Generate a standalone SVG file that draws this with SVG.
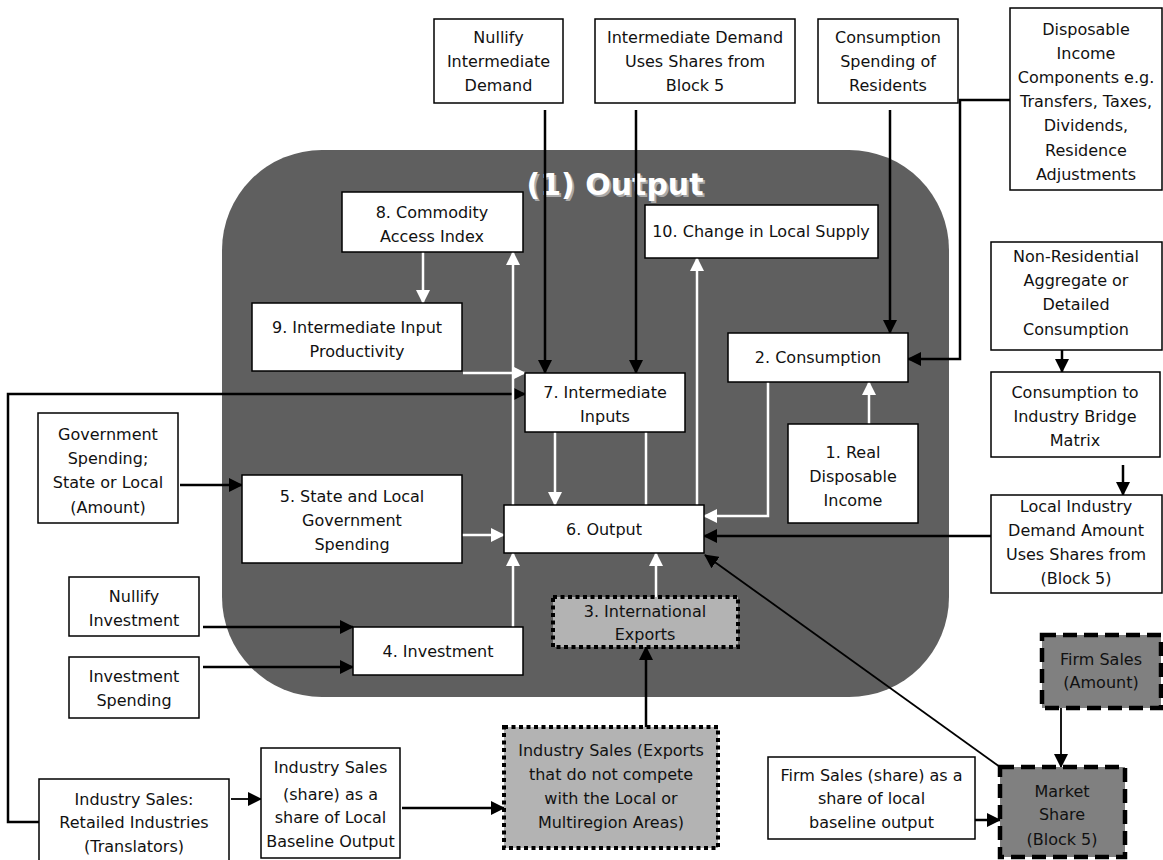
<svg xmlns="http://www.w3.org/2000/svg" width="1163" height="860" viewBox="0 0 1163 860">
<defs>
<marker id="ab" markerUnits="userSpaceOnUse" markerWidth="14" markerHeight="14" viewBox="0 0 14 14" refX="13" refY="7" orient="auto"><path d="M0,0 L14,7 L0,14 z" fill="#000"/></marker>
<marker id="aw" markerUnits="userSpaceOnUse" markerWidth="14" markerHeight="14" viewBox="0 0 14 14" refX="13" refY="7" orient="auto"><path d="M0,0 L14,7 L0,14 z" fill="#fff"/></marker>
<style>
.n rect{fill:#fff;stroke:#000;stroke-width:1.5}
.n text,.t{font-family:"DejaVu Sans",sans-serif;font-size:16px;fill:#111;text-anchor:middle}
.dot rect{fill:#b3b3b3;stroke:#000;stroke-width:4;stroke-dasharray:4 3.5}
.dash rect{fill:#808080;stroke:#000;stroke-width:4.5;stroke-dasharray:14 7}
.bk{fill:none;stroke:#000;stroke-width:2.5;marker-end:url(#ab)}
.bt{fill:none;stroke:#000;stroke-width:1.8;marker-end:url(#ab)}
.wh{fill:none;stroke:#fff;stroke-width:2.5;marker-end:url(#aw)}
.wl{fill:none;stroke:#fff;stroke-width:2.5}
</style>
</defs>
<rect width="1163" height="860" fill="#fff"/>
<rect id="block" x="222" y="150" width="727" height="547" rx="100" ry="100" fill="#5f5f5f"/>
<text x="617" y="197" font-family="DejaVu Sans,sans-serif" font-weight="bold" font-size="30" fill="#aaa" text-anchor="middle">(1) Output</text>
<text x="615" y="195" font-family="DejaVu Sans,sans-serif" font-weight="bold" font-size="30" fill="#fff" text-anchor="middle">(1) Output</text>

<g id="connectors">
<path class="bk" d="M545,110 V373"/>
<path class="bk" d="M636,110 V373"/>
<path class="bk" d="M890,110 V333"/>
<path class="bk" d="M1010,100 H960 V359 H908"/>
<path class="bk" d="M180,485 H242"/>
<path class="bk" d="M203,627 H353"/>
<path class="bk" d="M203,667 H353"/>
<path class="bk" d="M39,822 H8 V394 H525"/>
<path class="bt" d="M231,799 H261"/>
<path class="bk" d="M402,808 H504"/>
<path class="bk" d="M646,727 V647"/>
<path class="bk" d="M1062,350 V372"/>
<path class="bk" d="M1123,465 V495"/>
<path class="bk" d="M991,536 H704"/>
<path class="bt" d="M1061,708 V767"/>
<path class="bk" d="M975,820 H1000"/>
<path class="bt" d="M1000,767 L705,555"/>
<path class="wh" d="M513,505 V252"/>
<path class="wh" d="M697,505 V258"/>
<path class="wh" d="M423,252 V303"/>
<path class="wh" d="M463,373 H525"/>
<path class="wh" d="M555,432 V505"/>
<path class="wl" d="M646,432 V505"/>
<path class="wh" d="M768,382 V516 H704"/>
<path class="wh" d="M869,424 V382"/>
<path class="wh" d="M462,535 H504"/>
<path class="wh" d="M513,627 V553"/>
<path class="wh" d="M656,597 V553"/>
</g>

<g id="n-nullify-intermediate" class="n"><rect x="434" y="19" width="129" height="84"/><text x="498.5" y="43">Nullify</text><text x="498.5" y="67">Intermediate</text><text x="498.5" y="91">Demand</text></g>
<g id="n-intermediate-demand" class="n"><rect x="595" y="19" width="200" height="84"/><text x="695" y="43">Intermediate Demand</text><text x="695" y="67">Uses Shares from</text><text x="695" y="91">Block 5</text></g>
<g id="n-consumption-spending" class="n"><rect x="818" y="19" width="140" height="84"/><text x="888" y="43">Consumption</text><text x="888" y="67">Spending of</text><text x="888" y="91">Residents</text></g>
<g id="n-disposable-components" class="n"><rect x="1010" y="8" width="152" height="182"/><text x="1086" y="35">Disposable</text><text x="1086" y="59">Income</text><text x="1086" y="83">Components e.g.</text><text x="1086" y="107">Transfers, Taxes,</text><text x="1086" y="131">Dividends,</text><text x="1086" y="156">Residence</text><text x="1086" y="180">Adjustments</text></g>
<g id="n-nonresidential" class="n"><rect x="991" y="242" width="171" height="108"/><text x="1076" y="262">Non-Residential</text><text x="1076" y="286">Aggregate or</text><text x="1076" y="310">Detailed</text><text x="1076" y="335">Consumption</text></g>
<g id="n-bridge" class="n"><rect x="991" y="372" width="169" height="85"/><text x="1075" y="398">Consumption to</text><text x="1075" y="422">Industry Bridge</text><text x="1075" y="446">Matrix</text></g>
<g id="n-local-industry" class="n"><rect x="991" y="495" width="171" height="98"/><text x="1076" y="512">Local Industry</text><text x="1076" y="536">Demand Amount</text><text x="1076" y="560">Uses Shares from</text><text x="1076" y="584">(Block 5)</text></g>
<g id="n8" class="n"><rect x="342" y="192" width="181" height="60"/><text x="432" y="218">8. Commodity</text><text x="432" y="242">Access Index</text></g>
<g id="n10" class="n"><rect x="645" y="205" width="233" height="53"/><text x="761" y="237">10. Change in Local Supply</text></g>
<g id="n9" class="n"><rect x="252" y="303" width="210" height="68"/><text x="357" y="333">9. Intermediate Input</text><text x="357" y="357">Productivity</text></g>
<g id="n2" class="n"><rect x="728" y="333" width="180" height="49"/><text x="818" y="363">2. Consumption</text></g>
<g id="n7" class="n"><rect x="525" y="373" width="160" height="59"/><text x="605" y="398">7. Intermediate</text><text x="605" y="422">Inputs</text></g>
<g id="n1" class="n"><rect x="788" y="424" width="130" height="99"/><text x="853" y="458">1. Real</text><text x="853" y="482">Disposable</text><text x="853" y="506">Income</text></g>
<g id="n-government" class="n"><rect x="38" y="413" width="140" height="110"/><text x="108" y="440">Government</text><text x="108" y="464">Spending;</text><text x="108" y="488">State or Local</text><text x="108" y="513">(Amount)</text></g>
<g id="n5" class="n"><rect x="242" y="475" width="220" height="88"/><text x="352" y="502">5. State and Local</text><text x="352" y="526">Government</text><text x="352" y="550">Spending</text></g>
<g id="n6" class="n"><rect x="504" y="505" width="200" height="48"/><text x="604" y="535">6. Output</text></g>
<g id="n-nullify-investment" class="n"><rect x="69" y="577" width="130" height="59"/><text x="134" y="602">Nullify</text><text x="134" y="626">Investment</text></g>
<g id="n-investment-spending" class="n"><rect x="69" y="657" width="130" height="61"/><text x="134" y="682">Investment</text><text x="134" y="706">Spending</text></g>
<g id="n4" class="n"><rect x="353" y="627" width="170" height="48"/><text x="438" y="657">4. Investment</text></g>
<g id="n3" class="n dot"><rect x="553" y="597" width="185" height="50"/><text x="645" y="617">3. International</text><text x="645" y="640">Exports</text></g>
<g id="n-industry-exports" class="n dot"><rect x="504" y="727" width="214" height="121"/><text x="611" y="756">Industry Sales (Exports</text><text x="611" y="780">that do not compete</text><text x="611" y="804">with the Local or</text><text x="611" y="828">Multiregion Areas)</text></g>
<g id="n-industry-retailed" class="n"><rect x="39" y="779" width="190" height="86"/><text x="134" y="805">Industry Sales:</text><text x="134" y="828">Retailed Industries</text><text x="134" y="852">(Translators)</text></g>
<g id="n-industry-share" class="n"><rect x="261" y="748" width="139" height="110"/><text x="330.5" y="773">Industry Sales</text><text x="330.5" y="800">(share) as a</text><text x="330.5" y="823">share of Local</text><text x="330.5" y="847">Baseline Output</text></g>
<g id="n-firm-share" class="n"><rect x="768" y="757" width="207" height="82"/><text x="871.5" y="781">Firm Sales (share) as a</text><text x="871.5" y="804">share of local</text><text x="871.5" y="828">baseline output</text></g>
<g id="n-firm-amount" class="n dash"><rect x="1042" y="635" width="119" height="73"/><text x="1101" y="665">Firm Sales</text><text x="1101" y="688">(Amount)</text></g>
<g id="n-market-share" class="n dash"><rect x="1000" y="767" width="125" height="90"/><text x="1062" y="797">Market</text><text x="1062" y="820">Share</text><text x="1062" y="845">(Block 5)</text></g>
</svg>
